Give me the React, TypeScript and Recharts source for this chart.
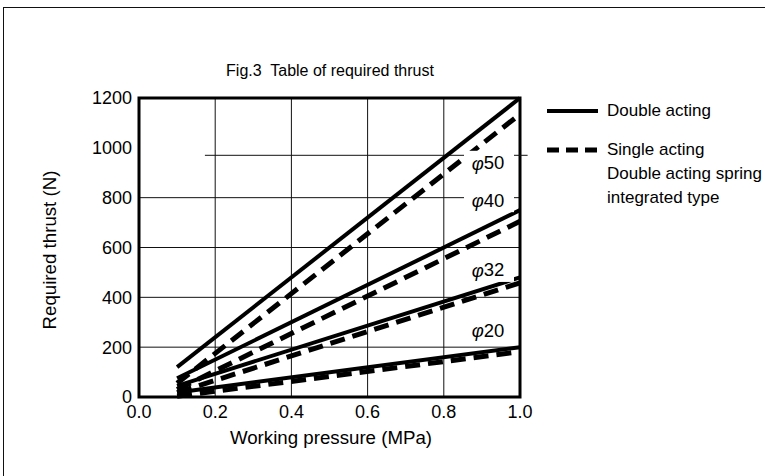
import React from "react";
import {
  LineChart,
  Line,
  XAxis,
  YAxis,
  CartesianGrid,
  ReferenceArea,
  ReferenceLine,
  ReferenceDot,
  Label,
} from "recharts";

// Working pressure (MPa) at which each curve starts and ends
const pressure = [0.1, 1.0];

// Double acting (solid) required thrust, N
const double50 = [120, 1200];
const double40 = [75, 750];
const double32 = [45, 480];
const double20 = [18, 200];

// Single acting / double acting spring integrated type (dashed), N
const single50 = [55, 1135];
const single40 = [30, 705];
const single32 = [18, 458];
const single20 = [3, 182];

const xTicks = [0, 0.2, 0.4, 0.6, 0.8, 1.0];
const yTicks = [0, 200, 400, 600, 800, 1000, 1200];

// bore labels: [label, pressure, thrust]
const boreLabels: [string, number, number][] = [
  ["50", 0.916, 940],
  ["40", 0.916, 790],
  ["32", 0.916, 510],
  ["20", 0.916, 268],
];

const data = pressure.map((p, i) => ({
  p,
  d50: double50[i],
  d40: double40[i],
  d32: double32[i],
  d20: double20[i],
  s50: single50[i],
  s40: single40[i],
  s32: single32[i],
  s20: single20[i],
}));

const FONT = "'Liberation Sans', Arial, Helvetica, sans-serif";
const DASH = "15 8";

const BoreLabel = (props: any) => {
  const { viewBox, value } = props;
  const cx = viewBox.cx ?? viewBox.x;
  const cy = viewBox.cy ?? viewBox.y;
  return (
    <g>
      <rect x={cx - 24} y={cy - 12} width={50} height={24} fill="#fff" />
      <text
        x={cx}
        y={cy}
        textAnchor="middle"
        dominantBaseline="central"
        fontFamily={FONT}
        fontSize={18.5}
        fill="#000"
      >
        <tspan fontStyle="italic">φ</tspan>
        {value}
      </text>
    </g>
  );
};

const LegendBox = () => (
  <div
    style={{
      position: "absolute",
      left: 545,
      top: 99,
      width: 220,
      fontFamily: FONT,
      fontSize: 17,
      color: "#000",
      lineHeight: "24px",
    }}
  >
    <div style={{ display: "flex", alignItems: "center", height: 24 }}>
      <svg width={62} height={24}>
        <line x1={2} x2={53} y1={12} y2={12} stroke="#000" strokeWidth={4} />
      </svg>
      <span>Double acting</span>
    </div>
    <div style={{ height: 15 }} />
    <div style={{ display: "flex", alignItems: "flex-start" }}>
      <svg width={62} height={24}>
        <line x1={2} x2={53} y1={12} y2={12} stroke="#000" strokeWidth={5} strokeDasharray="12 7" />
      </svg>
      <span>
        Single acting
        <br />
        Double acting spring
        <br />
        integrated type
      </span>
    </div>
  </div>
);

export default function App() {
  return (
    <div
      style={{
        position: "absolute",
        left: 0,
        top: 0,
        width: 765,
        height: 476,
        overflow: "hidden",
        background: "#fff",
      }}
    >
      <div
        style={{
          position: "absolute",
          left: 3,
          top: 7,
          width: 800,
          height: 520,
          border: "1.5px solid #111",
        }}
      />
      <div
        style={{
          position: "absolute",
          left: 0,
          top: 62,
          width: 660,
          textAlign: "center",
          fontFamily: FONT,
          fontSize: 16,
          color: "#000",
          whiteSpace: "pre",
        }}
      >
        {"Fig.3  Table of required thrust"}
      </div>
      <div style={{ position: "absolute", left: 0, top: 0 }}>
        <LineChart
          width={765}
          height={476}
          data={data}
          margin={{ top: 98, right: 245, bottom: 49, left: 99 }}
        >
          <CartesianGrid
            stroke="#111"
            strokeWidth={1}
            horizontalValues={[200, 400, 600, 800]}
            verticalValues={[0.2, 0.4, 0.6, 0.8]}
          />
          <XAxis
            dataKey="p"
            type="number"
            domain={[0, 1]}
            ticks={xTicks}
            tickFormatter={(v: number) => v.toFixed(1)}
            axisLine={false}
            tickLine={false}
            tickMargin={2}
            tick={{ fill: "#000", fontSize: 18, fontFamily: FONT }}
            height={30}
          >
            <Label
              content={() => (
                <text
                  x={331}
                  y={444}
                  textAnchor="middle"
                  fontFamily={FONT}
                  fontSize={18.7}
                  fill="#000"
                >
                  Working pressure (MPa)
                </text>
              )}
            />
          </XAxis>
          <YAxis
            type="number"
            domain={[0, 1200]}
            ticks={yTicks}
            axisLine={false}
            tickLine={false}
            tickMargin={1}
            width={40}
            tick={{ fill: "#000", fontSize: 18, fontFamily: FONT }}
          >
            <Label
              content={() => (
                <text
                  transform="translate(56,250) rotate(-90)"
                  textAnchor="middle"
                  fontFamily={FONT}
                  fontSize={18.7}
                  fill="#000"
                >
                  Required thrust (N)
                </text>
              )}
            />
          </YAxis>
          <ReferenceLine
            segment={[
              { x: 0.173, y: 970 },
              { x: 1.02, y: 970 },
            ]}
            stroke="#111"
            strokeWidth={1}
            ifOverflow="visible"
          />
          {boreLabels.map(([t, x, y]) => (
            <ReferenceDot
              key={t}
              x={x}
              y={y}
              r={0}
              fill="none"
              stroke="none"
              ifOverflow="visible"
              label={<BoreLabel value={t} />}
            />
          ))}
          <Line dataKey="s50" stroke="#000" strokeWidth={5} strokeDasharray={DASH} dot={false} isAnimationActive={false} strokeLinecap="butt" />
          <Line dataKey="s40" stroke="#000" strokeWidth={5} strokeDasharray={DASH} dot={false} isAnimationActive={false} strokeLinecap="butt" />
          <Line dataKey="s32" stroke="#000" strokeWidth={5} strokeDasharray={DASH} dot={false} isAnimationActive={false} strokeLinecap="butt" />
          <Line dataKey="s20" stroke="#000" strokeWidth={5} strokeDasharray={DASH} dot={false} isAnimationActive={false} strokeLinecap="butt" />
          <Line dataKey="d50" stroke="#000" strokeWidth={4} dot={false} isAnimationActive={false} />
          <Line dataKey="d40" stroke="#000" strokeWidth={4} dot={false} isAnimationActive={false} />
          <Line dataKey="d32" stroke="#000" strokeWidth={4} dot={false} isAnimationActive={false} />
          <Line dataKey="d20" stroke="#000" strokeWidth={4} dot={false} isAnimationActive={false} />
          <ReferenceArea
            x1={0}
            x2={1}
            y1={0}
            y2={1200}
            fill="none"
            stroke="#000"
            strokeWidth={3}
            ifOverflow="visible"
          />
        </LineChart>
      </div>
      <LegendBox />
    </div>
  );
}
